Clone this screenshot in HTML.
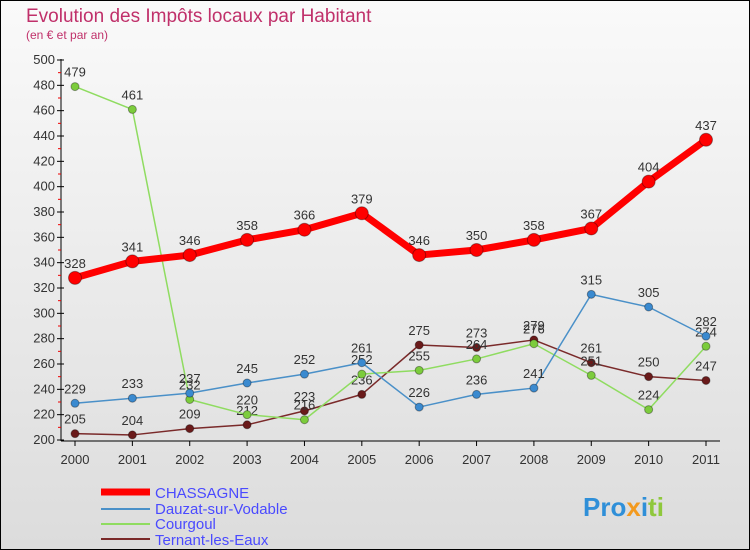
<!DOCTYPE html>
<html><head><meta charset="utf-8"><style>
body{margin:0;width:750px;height:550px;overflow:hidden;font-family:"Liberation Sans",sans-serif}
svg{display:block}
</style></head><body>
<svg id="c" width="750" height="550" xmlns="http://www.w3.org/2000/svg">
<defs><linearGradient id="bg" x1="0" y1="0" x2="0" y2="1"><stop offset="0" stop-color="#fafafa"/><stop offset="1" stop-color="#dcdcdc"/></linearGradient></defs>
<rect x="0.5" y="0.5" width="749" height="549" fill="url(#bg)" stroke="#000"/>
<text x="26" y="22" font-size="19" fill="#c0306a">Evolution des Impôts locaux par Habitant</text>
<text x="26" y="39" font-size="12" fill="#c0306a">(en € et par an)</text>
<g id="axes"></g><g id="series"></g>
<g>
<line x1="101" y1="492" x2="150" y2="492" stroke="#f00" stroke-width="7"/>
<text x="155" y="498" font-size="15" fill="#4a4aff">CHASSAGNE</text>
<line x1="101" y1="509" x2="150" y2="509" stroke="#4a90c8" stroke-width="2"/>
<text x="155" y="514" font-size="15" fill="#4a4aff">Dauzat-sur-Vodable</text>
<line x1="101" y1="524" x2="150" y2="524" stroke="#8fdc60" stroke-width="2"/>
<text x="155" y="529" font-size="15" fill="#4a4aff">Courgoul</text>
<line x1="101" y1="539" x2="150" y2="539" stroke="#7a2a2a" stroke-width="2"/>
<text x="155" y="545" font-size="15" fill="#4a4aff">Ternant-les-Eaux</text>
</g>
<text x="583" y="516" font-size="26" font-weight="bold"><tspan fill="#2f8fd8">Pro</tspan><tspan fill="#f39a1e">x</tspan><tspan fill="#2f8fd8">i</tspan><tspan fill="#8fc83c">ti</tspan></text>
</svg>
<script>
const years=["2000","2001","2002","2003","2004","2005","2006","2007","2008","2009","2010","2011"];
const chassagne=[328,341,346,358,366,379,346,350,358,367,404,437];
const dauzat=[229,233,237,245,252,261,226,236,241,315,305,282];
const courgoul=[479,461,232,220,216,252,255,264,276,251,224,274];
const ternant=[205,204,209,212,223,236,275,273,279,261,250,247];
const yTicks=[200,220,240,260,280,300,320,340,360,380,400,420,440,460,480,500];
const NS="http://www.w3.org/2000/svg";
const xs=i=>75+i*(706-75)/(years.length-1);
const ys=v=>440-(v-200)*380/300;
function mk(t,a,p){const e=document.createElementNS(NS,t);for(const k in a)e.setAttribute(k,a[k]);p.appendChild(e);return e;}
const ax=document.getElementById('axes'),se=document.getElementById('series');
const ya=mk('line',{x1:61,y1:59,x2:61,y2:441,stroke:'#000'},ax);


const xa=mk('line',{x1:61,y1:441,x2:720,y2:441,stroke:'#000'},ax);


for(let v=210;v<500;v+=20){mk('line',{x1:58,y1:ys(v),x2:61,y2:ys(v),stroke:'#e00'},ax);}
yTicks.forEach(v=>{mk('line',{x1:57,y1:ys(v),x2:64,y2:ys(v),stroke:'#000'},ax);
const t=mk('text',{x:55,y:ys(v)+4,'font-size':13,fill:'#333','text-anchor':'end'},ax);t.textContent=v;

});
years.forEach((y,i)=>{mk('line',{x1:xs(i),y1:441,x2:xs(i),y2:446,stroke:'#000'},ax);
const t=mk('text',{x:xs(i),y:464,'font-size':13,fill:'#333','text-anchor':'middle'},ax);t.textContent=y;

});
function series(data,name,color,w,r,fill){
const g=mk('g',{},se);


const pl=mk('polyline',{points:data.map((v,i)=>xs(i)+','+ys(v)).join(' '),fill:'none',stroke:color,'stroke-width':w,'stroke-linejoin':'round'},g);


data.forEach((v,i)=>{const c=mk('circle',{cx:xs(i),cy:ys(v),r:r,fill:fill,stroke:'rgba(0,0,0,0.35)','stroke-width':1},g);


const t=mk('text',{x:xs(i),y:ys(v)-10,'font-size':13,fill:'#333','text-anchor':'middle'},g);t.textContent=v;

});}
series(ternant,'ternant','#7a2a2a',1.5,4,'#6a1a1a');
series(courgoul,'courgoul','#8fdc60',1.5,4,'#7ccc3c');
series(dauzat,'dauzat','#4a90c8',1.5,4,'#3a8ad0');
series(chassagne,'chassagne','#f00',7,6.5,'#f00');
</script>
</body></html>
